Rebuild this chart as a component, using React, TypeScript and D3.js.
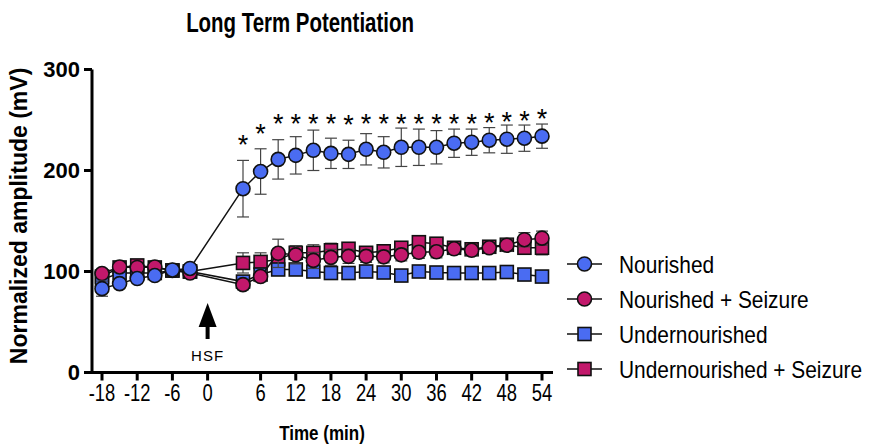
import React from 'react';
import * as d3 from 'd3';

// time points (min), pre-HSF then post-HSF
const TIMES = [-18, -15, -12, -9, -6, -3, 3, 6, 9, 12, 15, 18, 21, 24, 27, 30, 33, 36, 39, 42, 45, 48, 51, 54];
const X_TICKS = [-18, -12, -6, 0, 6, 12, 18, 24, 30, 36, 42, 48, 54];
const Y_TICKS = [0, 100, 200, 300];

const nourished = [83, 88, 93, 96, 101.5, 103, 182, 199, 211, 215, 220, 217, 216, 221, 218, 223, 223, 223, 227, 228, 230, 231, 232, 234];
const nourishedSem = [7.5, 4, 3, 3, 3, 3, 28, 22.5, 19.5, 18.5, 20, 15, 14, 15.5, 15.5, 19, 18, 16.5, 14, 13, 12.5, 14, 13, 12];

const nourishedSeizure = [98, 104.5, 104, 104.5, 101, 98.5, 87, 95, 118, 116.5, 111, 114, 115, 115, 114.5, 116.5, 119, 119.5, 122.5, 121, 123.5, 126, 131.5, 133];
const nourishedSeizureSem = [4, 3, 3, 3, 3, 3, 5, 5, 14, 9, 8, 8, 7, 6, 6, 6, 6, 6, 5, 5, 5, 6, 7, 7];

const under = [92, 98.5, 98.5, 98.5, 101, 100, 90, 97, 102, 102, 100, 98.5, 98.5, 100, 99, 96, 100, 99, 98.5, 98.5, 98.5, 99.5, 97, 95];
const underSem = [4, 3, 3, 3, 3, 3, 4, 4, 4, 4, 4, 4, 3, 3, 3, 3, 3, 3, 3, 3, 3, 3, 3, 3];

const underSeizure = [95, 104, 106, 104, 101, 100, 108.5, 109.5, 112, 118.5, 118.5, 121, 122.5, 118.5, 120, 123.5, 129, 127.5, 123.5, 122, 124.5, 126.5, 123.5, 123.5];
const underSeizureSem = [4, 3, 3, 3, 3, 3, 10, 9, 8, 7, 8, 7, 6, 5, 5, 5, 5, 5, 5, 5, 5, 5, 6, 7];

// significance vs. other groups, marked on the Nourished curve
const significant = TIMES.map(t => t > 0);

const BLUE = '#4a6cf2';
const MAGENTA = '#c2186b';

const series = [
  { name: 'Undernourished + Seizure', values: underSeizure, sem: underSeizureSem, color: MAGENTA, shape: 'square' },
  { name: 'Undernourished', values: under, sem: underSem, color: BLUE, shape: 'square' },
  { name: 'Nourished + Seizure', values: nourishedSeizure, sem: nourishedSeizureSem, color: MAGENTA, shape: 'circle' },
  { name: 'Nourished', values: nourished, sem: nourishedSem, color: BLUE, shape: 'circle' },
];
const legendOrder = ['Nourished', 'Nourished + Seizure', 'Undernourished', 'Undernourished + Seizure'];

const WIDTH = 871;
const HEIGHT = 445;
const AXIS_LEFT = 92;
const AXIS_RIGHT = 553;
const R = 6.5;

// the axis leaves a gap between 0 and the first post-HSF point
const xScale = d3.scaleLinear().domain([-18, 0, 3, 54]).range([102, 207.6, 243, 542]);
const yScale = d3.scaleLinear().domain([0, 300]).range([372.5, 69.5]);

function Marker({ shape, color, x, y }) {
  if (shape === 'square') {
    return <rect x={x - R} y={y - R} width={R * 2} height={R * 2} fill={color} stroke="#111" strokeWidth={1.6} />;
  }
  return <circle cx={x} cy={y} r={R + 0.5} fill={color} stroke="#111" strokeWidth={1.6} />;
}

export default function App() {
  const line = d3.line<number>()
    .x((_, i) => xScale(TIMES[i]))
    .y(d => yScale(d));

  const x0 = xScale(0);
  const font = '"Liberation Sans", Arial, Helvetica, sans-serif';

  return (
    <svg width={WIDTH} height={HEIGHT} style={{ position: 'absolute', left: 0, top: 0, background: '#fff' }} fontFamily={font}>
      {/* title */}
      <text transform="translate(300,32) scale(0.73,1)" textAnchor="middle" fontSize={28} fontWeight="bold">Long Term Potentiation</text>

      {/* y axis */}
      <line x1={AXIS_LEFT} x2={AXIS_LEFT} y1={yScale(0) + 1.5} y2={yScale(300)} stroke="#000" strokeWidth={3} />
      {Y_TICKS.map(t => (
        <g key={t}>
          <line x1={AXIS_LEFT - 8} x2={AXIS_LEFT} y1={yScale(t)} y2={yScale(t)} stroke="#000" strokeWidth={3} />
          <text x={80} y={yScale(t)} dy="0.36em" textAnchor="end" fontSize={22} fontWeight="bold">{t}</text>
        </g>
      ))}
      <text transform={`translate(27,${yScale(155)}) rotate(-90)`} textAnchor="middle" fontSize={23} fontWeight="bold">Normalized amplitude (mV)</text>

      {/* x axis */}
      <line x1={AXIS_LEFT} x2={AXIS_RIGHT} y1={yScale(0)} y2={yScale(0)} stroke="#000" strokeWidth={3} />
      {X_TICKS.map(t => (
        <g key={t}>
          <line x1={xScale(t)} x2={xScale(t)} y1={yScale(0)} y2={yScale(0) + 8} stroke="#000" strokeWidth={3} />
          <text transform={`translate(${xScale(t)},401) scale(0.8,1)`} textAnchor="middle" fontSize={23}>{t}</text>
        </g>
      ))}
      <text transform="translate(322,440) scale(0.85,1)" textAnchor="middle" fontSize={20} fontWeight="bold">Time (min)</text>

      {/* HSF arrow */}
      <polygon points={`${x0},303 ${x0 - 9},327 ${x0 + 9},327`} fill="#000" />
      <rect x={x0 - 2} y={325} width={4} height={14} fill="#000" />
      <text x={x0} y={361} textAnchor="middle" fontSize={15} letterSpacing={1}>HSF</text>

      {/* series */}
      {series.map(s => (
        <g key={s.name}>
          <path d={line(s.values)} fill="none" stroke="#111" strokeWidth={1.5} />
          {s.values.map((v, i) => {
            const x = xScale(TIMES[i]);
            const top = yScale(v + s.sem[i]);
            const bot = yScale(v - s.sem[i]);
            return (
              <g key={i} stroke="#444" strokeWidth={1.2}>
                <line x1={x} x2={x} y1={top} y2={bot} />
                <line x1={x - 6} x2={x + 6} y1={top} y2={top} />
                <line x1={x - 6} x2={x + 6} y1={bot} y2={bot} />
              </g>
            );
          })}
          {s.values.map((v, i) => (
            <Marker key={i} shape={s.shape} color={s.color} x={xScale(TIMES[i])} y={yScale(v)} />
          ))}
        </g>
      ))}

      {/* significance stars */}
      {TIMES.map((t, i) => {
        if (!significant[i]) return null;
        const upper = nourished[i] + nourishedSem[i];
        const level = Math.max(Math.min(upper + 22, 253), nourished[i] + 24);
        return (
          <text key={t} x={xScale(t)} y={yScale(level) + 16} textAnchor="middle" fontSize={27}>*</text>
        );
      })}

      {/* legend */}
      {legendOrder.map((name, i) => {
        const s = series.find(d => d.name === name);
        const y = 264 + i * 35;
        return (
          <g key={name}>
            <line x1={567} x2={602} y1={y} y2={y} stroke="#111" strokeWidth={1.5} />
            <Marker shape={s.shape} color={s.color} x={584.5} y={y} />
            <text transform={`translate(619,${y + 8.5}) scale(0.87,1)`} fontSize={24}>{name}</text>
          </g>
        );
      })}
    </svg>
  );
}
